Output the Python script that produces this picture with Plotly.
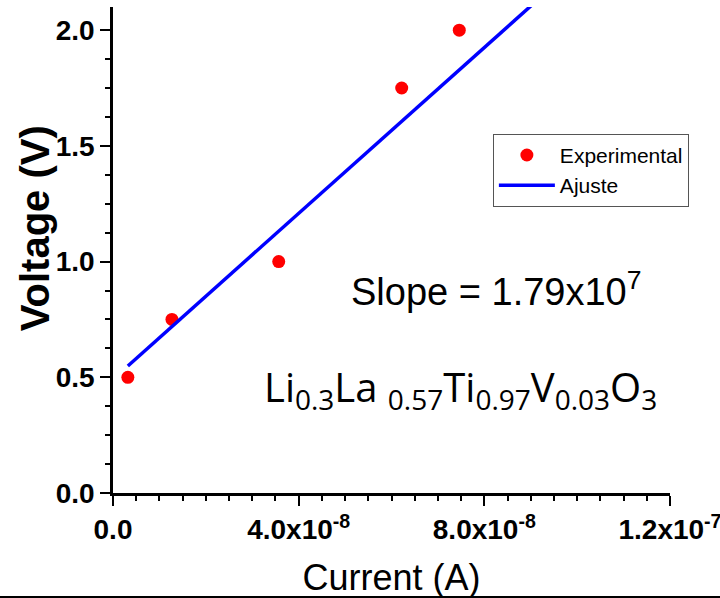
import plotly.graph_objects as go

# Data
exp_current = [3.2e-9, 1.27e-8, 3.57e-8, 6.22e-8, 7.46e-8]
exp_voltage = [0.5, 0.75, 1.0, 1.75, 2.0]
fit_current = [3.2e-9, 9.2e-8]
fit_voltage = [0.549, 2.14]
x_tickvals = [0, 4e-8, 8e-8, 1.2e-7]
x_ticktext = ["0.0", "4.0x10<sup>-8</sup>", "8.0x10<sup>-8</sup>", "1.2x10<sup>-7</sup>"]

fig = go.Figure()
fig.add_trace(go.Scatter(x=exp_current, y=exp_voltage, mode="markers", name="Experimental",
                         marker=dict(color="#FF0000", size=13)))
fig.add_trace(go.Scatter(x=fit_current, y=fit_voltage, mode="lines", name="Ajuste",
                         line=dict(color="#0000FF", width=3.5)))

FONT = "Liberation Sans, Arial"
fig.update_layout(
    width=720, height=598,
    margin=dict(l=113, r=50, t=7, b=105, autoexpand=False),
    paper_bgcolor="white", plot_bgcolor="white",
    showlegend=True,
    legend=dict(x=0.682, y=0.739, xanchor="left", yanchor="top",
                bordercolor="#555555", borderwidth=1, bgcolor="white",
                font=dict(family=FONT, size=21, color="black"),
                itemwidth=56, tracegroupgap=0),
    xaxis=dict(range=[0, 1.2e-7], tickmode="array", tickvals=x_tickvals, ticktext=x_ticktext,
               automargin=False, ticklabeloverflow="allow",
               showgrid=False, zeroline=False, showline=True, linecolor="black", linewidth=2.5,
               ticks="outside", ticklen=10, tickwidth=2, tickcolor="black",
               tickfont=dict(family=FONT, size=28, color="black", weight="bold"),
               minor=dict(tickmode="linear", tick0=0, dtick=5e-9, ticks="outside", ticklen=5,
                          tickwidth=1.5, tickcolor="black", showgrid=False),
               title=dict(text="Current (A)", font=dict(family=FONT, size=36, color="black"),
                          standoff=22)),
    yaxis=dict(range=[0, 2.1], tickmode="linear", tick0=0, dtick=0.5, tickformat=".1f",
               automargin=False, ticklabeloverflow="allow",
               showgrid=False, zeroline=False, showline=True, linecolor="black", linewidth=2.5,
               ticks="outside", ticklen=10, tickwidth=2, tickcolor="black",
               tickfont=dict(family=FONT, size=28, color="black", weight="bold"),
               minor=dict(tickmode="linear", tick0=0, dtick=0.125, ticks="outside", ticklen=5,
                          tickwidth=1.5, tickcolor="black", showgrid=False)),
)

fig.add_annotation(x=-0.14, y=0.545, xref="paper", yref="paper", showarrow=False,
                   xanchor="center", yanchor="middle", textangle=-90,
                   text="<b>Voltage (V)</b>",
                   font=dict(family=FONT, size=40, color="black"))
fig.add_annotation(x=0.688, y=0.42, xref="paper", yref="paper", showarrow=False,
                   xanchor="center", yanchor="middle",
                   text="Slope = 1.79x10<sup>7</sup>",
                   font=dict(family=FONT, size=38, color="black"))
fig.add_annotation(x=0.623, y=0.215, xref="paper", yref="paper", showarrow=False,
                   xanchor="center", yanchor="middle",
                   text="Li<sub>0.3</sub>La <sub>0.57</sub>Ti<sub>0.97</sub>V<sub>0.03</sub>O<sub>3</sub>",
                   font=dict(family="Open Sans", size=40, color="black"))

fig.add_shape(type="line", xref="paper", yref="paper", x0=-0.21, x1=1.1, y0=-0.214, y1=-0.214,
              line=dict(color="black", width=2))

fig.write_html("out.html", config={"displayModeBar": False},
               post_script="document.body.style.margin='0';")
